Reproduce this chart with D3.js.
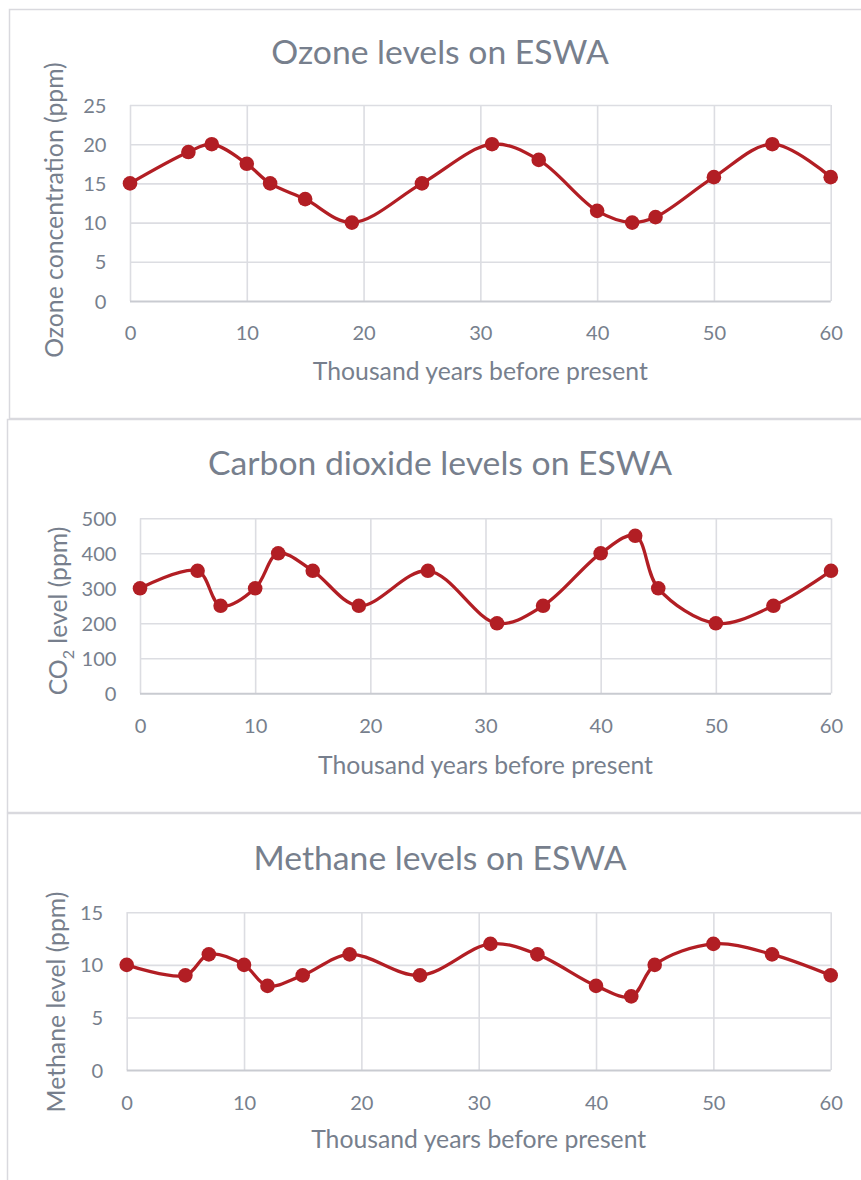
<!DOCTYPE html>
<html>
<head>
<meta charset="utf-8">
<script src="https://cdn.jsdelivr.net/npm/d3@7"></script>
<style>
  html, body { margin: 0; padding: 0; background: #fff; }
  svg { display: block; }
  text { font-family: Lato, "Open Sans", sans-serif; }
</style>
</head>
<body>
<svg id="chart" width="861" height="1180"></svg>
<script>
// ---------------- DATA ----------------
const years = [0, 5, 7, 10, 12, 15, 19, 25, 31, 35, 40, 43, 45, 50, 55, 60];
const ozone = [15, 19, 20, 17.5, 15, 13, 10, 15, 20, 18, 11.5, 10, 10.7, 15.8, 20, 15.8];
const co2 = [300, 350, 250, 300, 400, 350, 250, 350, 200, 250, 400, 450, 300, 200, 250, 350];
const methane = [10, 9, 11, 10, 8, 9, 11, 9, 12, 11, 8, 7, 10, 12, 11, 9];

const xTicks = [0, 10, 20, 30, 40, 50, 60];
const ozoneTicks = [0, 5, 10, 15, 20, 25];
const co2Ticks = [0, 100, 200, 300, 400, 500];
const methaneTicks = [0, 5, 10, 15];

const titles = ["Ozone levels on ESWA", "Carbon dioxide levels on ESWA", "Methane levels on ESWA"];
const xTitle = "Thousand years before present";
const yTitles = ["Ozone concentration (ppm)", "CO|2| level (ppm)", "Methane level (ppm)"];

// ---------------- LAYOUT ----------------
const layouts = [
  { panel: [9, 9, 880, 409], plot: [130, 830.7, 105, 301], titleY: 64, xTickY: 340, xTitleY: 380, yTitleX: 63, yTitleCy: 210 },
  { panel: [7, 419, 880, 393], plot: [140, 831, 518.3, 693.3], titleY: 475, xTickY: 733, xTitleY: 774, yTitleX: 67, yTitleCy: 611 },
  { panel: [7, 813, 880, 420], plot: [126.7, 830.7, 912.3, 1070], titleY: 870, xTickY: 1110, xTitleY: 1148, yTitleX: 65, yTitleCy: 1002 }
];
const series = [ozone, co2, methane];
const yTickSets = [ozoneTicks, co2Ticks, methaneTicks];

const TEXT = "#777f8d";
const GRID = "#dcdde2";
const AXIS = "#c9cbd1";
const LINE = "#b21e24";

const svg = d3.select("#chart");

function fitSize(str, target, base) {
  const t = svg.append("text").attr("font-size", base).text(str);
  const w = t.node().getComputedTextLength();
  t.remove();
  return base * target / w;
}
const titleSize = fitSize(titles[1], 464, 30);
const axisTitleSize = fitSize(xTitle, 335, 24);
const tickSize = fitSize("500", 35, 20);

layouts.forEach((L, i) => {
  const g = svg.append("g");
  const [px, py, pw, ph] = L.panel;
  g.append("rect").attr("x", px + 0.5).attr("y", py + 0.5).attr("width", pw).attr("height", ph)
    .attr("fill", "#fff").attr("stroke", "#d9d9de").attr("stroke-width", 1.5);

  const [x0, x1, yT, yB] = L.plot;
  const ticks = yTickSets[i];
  const x = d3.scaleLinear().domain([0, 60]).range([x0, x1]);
  const y = d3.scaleLinear().domain([0, ticks[ticks.length - 1]]).range([yB, yT]);

  const xa = g.append("g").attr("transform", `translate(0,${yB})`)
    .call(d3.axisBottom(x).tickValues(xTicks).tickSize(-(yB - yT)).tickFormat(d3.format("d")));
  xa.select(".domain").remove();
  xa.selectAll(".tick line").attr("stroke", GRID).attr("stroke-width", 1.6);
  xa.selectAll(".tick text").attr("y", L.xTickY - yB).attr("dy", null)
    .attr("fill", TEXT).attr("font-size", tickSize);

  const ya = g.append("g").attr("transform", `translate(${x0},0)`)
    .call(d3.axisLeft(y).tickValues(ticks).tickSize(-(x1 - x0)).tickPadding(23.5).tickFormat(d3.format("d")));
  ya.select(".domain").remove();
  ya.selectAll(".tick line").attr("stroke", (d) => d === 0 ? AXIS : GRID).attr("stroke-width", (d) => d === 0 ? 2 : 1.6);
  ya.selectAll(".tick text").attr("dy", "0.35em").attr("fill", TEXT).attr("font-size", tickSize);

  g.append("text").attr("x", 440).attr("y", L.titleY).attr("text-anchor", "middle")
    .attr("fill", TEXT).attr("font-size", titleSize).text(titles[i]);

  g.append("text").attr("x", (x0 + x1) / 2).attr("y", L.xTitleY).attr("text-anchor", "middle")
    .attr("fill", TEXT).attr("font-size", axisTitleSize).text(xTitle);

  const yt = g.append("text").attr("transform", `translate(${L.yTitleX},${L.yTitleCy}) rotate(-90)`)
    .attr("text-anchor", "middle").attr("fill", TEXT).attr("font-size", axisTitleSize);
  yTitles[i].split("|").forEach((part, k) => {
    if (!part) return;
    const ts = yt.append("tspan").text(part);
    if (k % 2 === 1) {
      ts.attr("font-size", axisTitleSize * 0.65).attr("dy", axisTitleSize * 0.28);
    } else if (k > 0) {
      ts.attr("dy", -axisTitleSize * 0.28);
    }
  });

  const vals = series[i];
  const pts = years.map((yr, j) => [yr, vals[j]]);
  const line = d3.line().x(d => x(d[0])).y(d => y(d[1])).curve(d3.curveCatmullRom.alpha(0.5));
  g.append("path").attr("d", line(pts)).attr("fill", "none").attr("stroke", LINE)
    .attr("stroke-width", 3.3).attr("stroke-linejoin", "round").attr("stroke-linecap", "round");
  g.selectAll("circle.m").data(pts).enter().append("circle").attr("class", "m")
    .attr("cx", d => x(d[0])).attr("cy", d => y(d[1])).attr("r", 7.3).attr("fill", LINE);
});
</script>
</body>
</html>
